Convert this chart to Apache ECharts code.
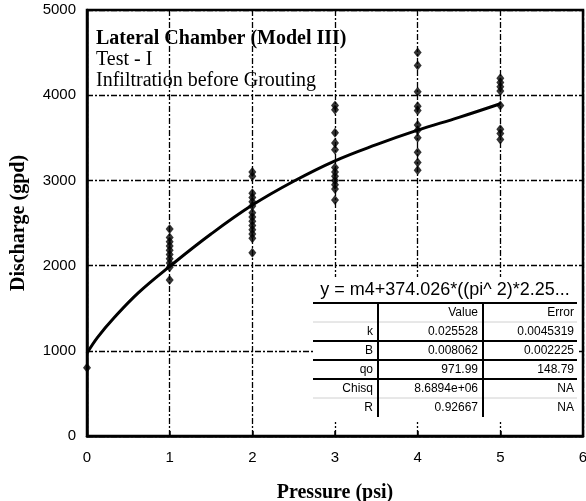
<!DOCTYPE html>
<html>
<head>
<meta charset="utf-8">
<script src="https://cdn.jsdelivr.net/npm/echarts@6/dist/echarts.min.js"></script>
<style>
  html, body { margin: 0; padding: 0; background: #fff; }
  #chart { width: 586px; height: 501px; }
</style>
</head>
<body>
<div id="chart"></div>
<script>
// measured points, grouped by pressure (psi) -> discharge (gpd)
const pressures = [0, 1, 2, 3, 4, 5];
const discharges = [
    [800],
    [2430, 2330, 2280, 2230, 2180, 2130, 2080, 2030, 1980, 1830],
    [3100, 3050, 2850, 2800, 2750, 2700, 2620, 2570, 2520, 2470, 2420, 2370, 2320, 2150],
    [3880, 3830, 3560, 3440, 3360, 3150, 3100, 3050, 3000, 2950, 2900, 2770],
    [4500, 4350, 4040, 3870, 3820, 3650, 3590, 3500, 3330, 3210, 3120],
    [4200, 4150, 4100, 4050, 3880, 3600, 3550, 3480]
];

// fitted curve
const fitX = [0, 0.13, 0.33, 0.62, 1, 1.5, 2, 2.5, 3, 3.5, 4, 4.5, 5];
const fitY = [972, 1160, 1390, 1680, 1990, 2370, 2710, 2990, 3230, 3420, 3590, 3740, 3900];

const titleLines = ['Lateral Chamber (Model III)', 'Test - I', 'Infiltration before Grouting'];

// fit results table
const fitEquation = 'y = m4+374.026*((pi^ 2)*2.25...';
const tableHeader = ['', 'Value', 'Error'];
const paramNames = ['k', 'B', 'qo', 'Chisq', 'R'];
const paramValues = ['0.025528', '0.008062', '971.99', '8.6894e+06', '0.92667'];
const paramErrors = ['0.0045319', '0.002225', '148.79', 'NA', 'NA'];

const scatterData = [];
pressures.forEach((p, i) => {
    for (const d of discharges[i]) scatterData.push([p, d]);
});
const fitData = fitX.map((x, i) => [x, fitY[i]]);

const chart = echarts.init(document.getElementById('chart'));

const dashDot = [6, 2, 2, 2];
const sans = 'Liberation Sans, Arial, sans-serif';
const serif = 'Liberation Serif, Times New Roman, serif';

// table graphic
function buildTable() {
    const left = 313, right = 577, top = 303;
    const c1 = 378, c2 = 483;
    const rowH = 19;
    const els = [];
    els.push({ type: 'rect', shape: { x: 313, y: 277, width: 265, height: 145 }, style: { fill: '#fff' }, z: 10 });
    els.push({
        type: 'text', x: (left + right) / 2, y: 290, z: 11,
        style: { text: fitEquation, font: '18px ' + sans, fill: '#000', align: 'center', verticalAlign: 'middle' }
    });
    els.push({ type: 'line', shape: { x1: left, y1: top, x2: right, y2: top }, style: { stroke: '#000', lineWidth: 2 }, z: 11 });
    const rows = [tableHeader].concat(paramNames.map((n, i) => [n, paramValues[i], paramErrors[i]]));
    const nRows = rows.length;
    rows.forEach((r, i) => {
        const cy = top + rowH * i + rowH / 2 + 0.5;
        [c1 - 5, c2 - 5, right - 3].forEach((x, j) => {
            if (!r[j]) return;
            els.push({
                type: 'text', x: x, y: cy, z: 11,
                style: { text: r[j], font: '12px ' + sans, fill: '#000', align: 'right', verticalAlign: 'middle' }
            });
        });
        if (i < nRows - 1) {
            const y = top + rowH * (i + 1);
            const gray = (i === 0 || i === 4);
            els.push({
                type: 'line', shape: { x1: left, y1: y, x2: right, y2: y }, z: 11,
                style: { stroke: gray ? '#d0d0d0' : '#000', lineWidth: gray ? 1 : 2 }
            });
        }
    });
    const bottom = top + rowH * nRows;
    [c1, c2].forEach(x => {
        els.push({ type: 'line', shape: { x1: x, y1: top, x2: x, y2: bottom }, style: { stroke: '#000', lineWidth: 2 }, z: 11 });
    });
    return els;
}

const titleGraphic = titleLines.map((t, i) => ({
    type: 'text', x: 96, y: 39 + i * 21, z: 12,
    style: {
        text: t, font: (i === 0 ? 'bold 20px ' : '20px ') + serif,
        fill: '#000', verticalAlign: 'middle'
    }
}));

chart.setOption({
    animation: false,
    backgroundColor: '#fff',
    grid: {
        left: 87, right: 3, top: 10, bottom: 65,
        outerBoundsMode: 'none',
        show: true, borderColor: '#000', borderWidth: 2.5, backgroundColor: 'transparent'
    },
    xAxis: {
        type: 'value', min: 0, max: 6, interval: 1,
        name: 'Pressure (psi)', nameLocation: 'middle', nameGap: 47,
        nameTextStyle: { fontFamily: serif, fontWeight: 'bold', fontSize: 20, color: '#000' },
        axisLine: { show: true, lineStyle: { color: '#000', width: 2.5 } },
        axisTick: { show: true, inside: true, length: 5, lineStyle: { color: '#000', width: 1.5 } },
        axisLabel: { fontFamily: sans, fontSize: 15, color: '#000', margin: 14 },
        splitLine: { show: true, lineStyle: { color: '#000', type: dashDot, width: 1.3 } }
    },
    yAxis: {
        type: 'value', min: 0, max: 5000, interval: 1000,
        name: 'Discharge (gpd)', nameLocation: 'middle', nameGap: 58, nameRotate: 90,
        nameTextStyle: { fontFamily: serif, fontWeight: 'bold', fontSize: 20, color: '#000' },
        axisLine: { show: true, lineStyle: { color: '#000', width: 2.5 } },
        axisTick: { show: false },
        axisLabel: { fontFamily: sans, fontSize: 15, color: '#000', margin: 11, formatter: v => String(v) },
        splitLine: { show: true, lineStyle: { color: '#000', type: dashDot, width: 1.3 } }
    },
    series: [
        {
            type: 'line', data: fitData, smooth: 0.4, showSymbol: false,
            lineStyle: { color: '#000', width: 3 }, z: 3
        },
        {
            type: 'scatter', data: scatterData, symbol: 'diamond', symbolSize: [8, 10],
            itemStyle: { color: '#000' }, z: 4
        }
    ],
    graphic: titleGraphic.concat(buildTable())
});
</script>
</body>
</html>
